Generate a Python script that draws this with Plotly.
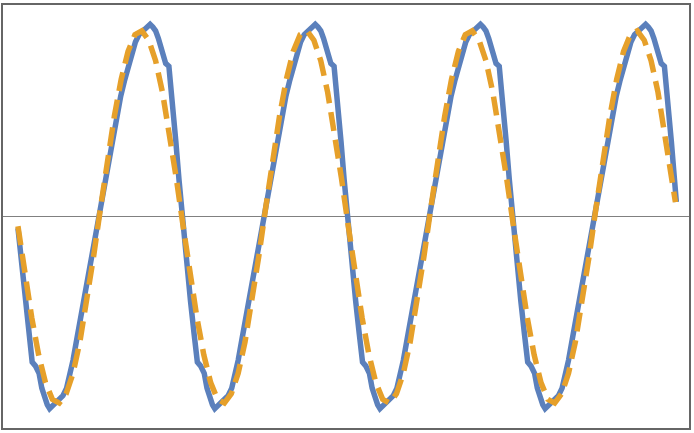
import plotly.graph_objects as go

# Blue (solid) series: phase in degrees and value
blue_t = [0, 8, 16, 24, 31, 38, 46, 52, 58, 64, 69, 78, 88, 98, 106, 114, 120, 128, 136, 144,
          152, 160, 168, 176, 184, 192, 200, 208, 216, 224, 232, 240, 248, 256, 264, 272, 280, 288, 294, 300,
          306, 312, 318, 322, 329, 333, 337, 344, 351, 358,
          360, 368, 376, 384, 391, 398, 406, 412, 418, 424, 429, 438, 448, 458, 466, 474, 480, 488, 496, 504,
          512, 520, 528, 536, 544, 552, 560, 568, 576, 584, 592, 600, 608, 616, 624, 632, 640, 648, 654, 660,
          666, 672, 678, 682, 689, 693, 697, 704, 711, 718,
          720, 728, 736, 744, 751, 758, 766, 772, 778, 784, 789, 798, 808, 818, 826, 834, 840, 848, 856, 864,
          872, 880, 888, 896, 904, 912, 920, 928, 936, 944, 952, 960, 968, 976, 984, 992, 1000, 1008, 1014, 1020,
          1026, 1032, 1038, 1042, 1049, 1053, 1057, 1064, 1071, 1078,
          1080, 1088, 1096, 1104, 1111, 1118, 1126, 1132, 1138, 1144, 1149, 1158, 1168, 1178, 1186, 1194, 1200, 1208, 1216, 1224,
          1232, 1240, 1248, 1256, 1264, 1272, 1280, 1288, 1296, 1304, 1312, 1320, 1328, 1336, 1344, 1352, 1360, 1368, 1374, 1380,
          1386, 1392, 1398, 1402, 1409, 1413, 1417, 1424, 1431, 1435]

blue_v = [-0.06, -0.25, -0.45, -0.63, -0.78, -0.80, -0.84, -0.92, -0.98, -1.01, -1.03, -1.01, -0.99, -0.96, -0.92, -0.84, -0.77, -0.66, -0.55, -0.44,
          -0.33, -0.21, -0.10, 0.00, 0.10, 0.21, 0.32, 0.44, 0.55, 0.65, 0.73, 0.81, 0.88, 0.94, 0.98, 1.00, 1.02, 1.035, 1.02, 1.00,
          0.96, 0.90, 0.85, 0.825, 0.81, 0.72, 0.62, 0.41, 0.20, 0.00,
          -0.06, -0.25, -0.45, -0.63, -0.78, -0.80, -0.84, -0.92, -0.98, -1.01, -1.03, -1.01, -0.99, -0.96, -0.92, -0.84, -0.77, -0.66, -0.55, -0.44,
          -0.33, -0.21, -0.10, 0.00, 0.10, 0.21, 0.32, 0.44, 0.55, 0.65, 0.73, 0.81, 0.88, 0.94, 0.98, 1.00, 1.02, 1.035, 1.02, 1.00,
          0.96, 0.90, 0.85, 0.825, 0.81, 0.72, 0.62, 0.41, 0.20, 0.00,
          -0.06, -0.25, -0.45, -0.63, -0.78, -0.80, -0.84, -0.92, -0.98, -1.01, -1.03, -1.01, -0.99, -0.96, -0.92, -0.84, -0.77, -0.66, -0.55, -0.44,
          -0.33, -0.21, -0.10, 0.00, 0.10, 0.21, 0.32, 0.44, 0.55, 0.65, 0.73, 0.81, 0.88, 0.94, 0.98, 1.00, 1.02, 1.035, 1.02, 1.00,
          0.96, 0.90, 0.85, 0.825, 0.81, 0.72, 0.62, 0.41, 0.20, 0.00,
          -0.06, -0.25, -0.45, -0.63, -0.78, -0.80, -0.84, -0.92, -0.98, -1.01, -1.03, -1.01, -0.99, -0.96, -0.92, -0.84, -0.77, -0.66, -0.55, -0.44,
          -0.33, -0.21, -0.10, 0.00, 0.10, 0.21, 0.32, 0.44, 0.55, 0.65, 0.73, 0.81, 0.88, 0.94, 0.98, 1.00, 1.02, 1.035, 1.02, 1.00,
          0.96, 0.90, 0.85, 0.825, 0.81, 0.72, 0.62, 0.41, 0.20, 0.08]

# Orange (dashed) series
orange_t = [0, 15, 30, 45, 60, 75, 90, 105, 120, 135, 150, 165, 180, 195, 210, 225, 240, 255, 270, 285, 300, 315, 330, 345,
            360, 375, 390, 405, 420, 435, 450, 465, 480, 495, 510, 525, 540, 555, 570, 585, 600, 615, 630, 645, 660, 675, 690, 705,
            720, 735, 750, 765, 780, 795, 810, 825, 840, 855, 870, 885, 900, 915, 930, 945, 960, 975, 990, 1005, 1020, 1035, 1050, 1065,
            1080, 1095, 1110, 1125, 1140, 1155, 1170, 1185, 1200, 1215, 1230, 1245, 1260, 1275, 1290, 1305, 1320, 1335, 1350, 1365, 1380, 1395, 1410, 1425,
            1433]
orange_v = [-0.05, -0.31, -0.54, -0.74, -0.89, -0.98, -1.00, -0.95, -0.84, -0.67, -0.45, -0.21, 0.05, 0.31, 0.54, 0.74, 0.89, 0.98, 1.00, 0.95, 0.84, 0.67, 0.45, 0.21,
            -0.05, -0.31, -0.54, -0.74, -0.89, -0.98, -1.00, -0.95, -0.84, -0.67, -0.45, -0.21, 0.05, 0.31, 0.54, 0.74, 0.89, 0.98, 1.00, 0.95, 0.84, 0.67, 0.45, 0.21,
            -0.05, -0.31, -0.54, -0.74, -0.89, -0.98, -1.00, -0.95, -0.84, -0.67, -0.45, -0.21, 0.05, 0.31, 0.54, 0.74, 0.89, 0.98, 1.00, 0.95, 0.84, 0.67, 0.45, 0.21,
            -0.05, -0.31, -0.54, -0.74, -0.89, -0.98, -1.00, -0.95, -0.84, -0.67, -0.45, -0.21, 0.05, 0.31, 0.54, 0.74, 0.89, 0.98, 1.00, 0.95, 0.84, 0.67, 0.45, 0.21,
            0.08]

fig = go.Figure()
fig.add_trace(go.Scatter(x=blue_t, y=blue_v, mode="lines",
                         line=dict(color="#5B80BC", width=5.5), showlegend=False, hoverinfo="skip"))
fig.add_trace(go.Scatter(x=orange_t, y=orange_v, mode="lines",
                         line=dict(color="#E6A02A", width=5.5, dash="19px,9px"), showlegend=False, hoverinfo="skip"))

fig.update_layout(
    width=694, height=433,
    margin=dict(l=3, r=3, t=3, b=5, pad=0),
    paper_bgcolor="white", plot_bgcolor="white",
    xaxis=dict(range=[-32.6, 1462.6], showgrid=False, zeroline=False, showticklabels=False,
               ticks="", showline=True, linecolor="#666666", linewidth=2, mirror=True, fixedrange=True),
    yaxis=dict(range=[-1.134, 1.139], showgrid=False, zeroline=True, zerolinecolor="#808080", zerolinewidth=1,
               showticklabels=False, ticks="", showline=True, linecolor="#666666", linewidth=2, mirror=True, fixedrange=True),
)

fig.write_html("out.html", config={"displayModeBar": False, "staticPlot": True},
               post_script="document.body.style.margin='0';document.body.style.padding='0';")
